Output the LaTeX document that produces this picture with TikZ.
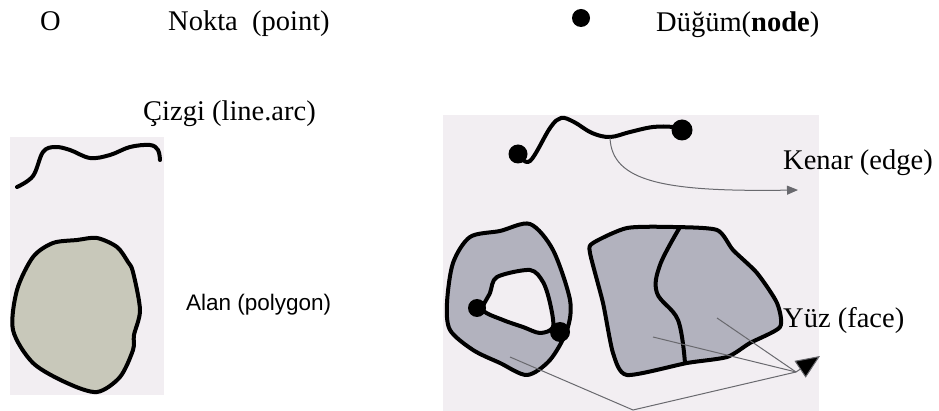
\documentclass[tikz,border=0pt]{standalone}
\usepackage{fontspec}
\setmainfont{Liberation Serif}
\newfontfamily\arialfont{Liberation Sans}
\usetikzlibrary{arrows.meta}
\definecolor{scanbg}{RGB}{242,238,242}
\definecolor{alanfill}{RGB}{200,200,186}
\definecolor{yuzfill}{RGB}{178,178,190}
\definecolor{pointergray}{RGB}{105,105,110}
\tikzset{
  outline/.style={draw=black, line width=4pt, line join=round, line cap=round},
  knot/.style={circle, fill=black, inner sep=0pt, minimum size=19pt},
  pointer/.style={draw=pointergray, line width=1pt},
  lbl/.style={anchor=base west, inner sep=0pt, font=\fontsize{28.5}{30}\selectfont},
  sanslbl/.style={anchor=base west, inner sep=0pt, font=\arialfont\fontsize{22.5}{25}\selectfont}
}

\begin{document}
\begin{tikzpicture}[x=1pt, y=-1pt]
  \useasboundingbox (0,0) rectangle (939,411);

  % Legend row
  \node[lbl] (pointsym) at (40,31) {O};
  \node[lbl] (pointlbl) at (168,31) {Nokta\ \ (point)};
  \node[knot, minimum size=18pt] (nodesym) at (581,18) {};
  \node[lbl] (nodelbl) at (656,32) {Düğüm(\textbf{node})};

  % Scanned panels
  \fill[scanbg] (10,137) rectangle (164,395);
  \fill[scanbg] (443,115) rectangle (819,411);

  % Left panel: line and polygon
  \node[lbl] (cizgilbl) at (143,121) {Çizgi (line.arc)};
  \draw[outline] plot[smooth, tension=0.6] coordinates {
    (17,187) (33,176) (43,152) (55,147) (70,150) (90,158)
    (110,155) (130,147) (150,145) (158,150) (160,160)};
  \draw[outline, fill=alanfill] plot[smooth cycle, tension=0.5] coordinates {
    (97,238) (117,247) (128,262) (133,272) (140,310) (134,335) (133,350) (120,377)
    (97,392) (67,383) (33,363) (13,330) (17,290) (33,257)
    (53,243) (77,240)};
  \node[sanslbl] (alanlbl) at (186,311) {Alan (polygon)};

  % Right panel: edge between two nodes
  \node[knot] (eleft) at (518,154) {};
  \node[knot, minimum size=21pt] (eright) at (682,130) {};
  \draw[outline] plot[smooth, tension=0.6] coordinates {
    (518,154) (530,161) (550,128) (561,118) (574,122) (592,133)
    (610,137) (630,132) (653,127) (673,127) (682,130)};
  \coordinate (edgept) at (610,138);
  \coordinate (edgetip) at (798,190);
  \draw[pointer, -{Triangle[length=11pt, width=9pt]}]
    (edgept) .. controls (612,182) and (665,192) .. (edgetip);
  \node[lbl] (kenarlbl) at (783,170) {Kenar (edge)};

  % Right panel: faces
  \draw[outline, fill=yuzfill, even odd rule] plot[smooth cycle, tension=0.5] coordinates {
    (500,231) (530,224) (553,250) (570,300) (567,330) (550,360)
    (527,375) (500,363) (473,350) (450,330) (447,303) (453,263) (470,237)}
    plot[smooth cycle, tension=0.5] coordinates {
    (497,277) (530,270) (543,282) (550,303) (553,327) (540,333)
    (523,327) (503,320) (483,310) (490,293)};
  \draw[outline, fill=yuzfill] plot[smooth cycle, tension=0.4] coordinates {
    (593,243) (627,228) (673,227) (717,230) (733,250) (757,273)
    (777,303) (780,327) (750,343) (727,357) (687,363) (627,375)
    (613,353) (603,303) (590,253)};
  \draw[outline] plot[smooth, tension=0.6] coordinates {
    (680,227) (660,265) (657,293) (678,320) (685,363)};
  \node[knot, minimum size=18pt] (hleft) at (477,308) {};
  \node[knot, minimum size=20pt] (hright) at (560,332) {};

  % Face pointers
  \coordinate (faceA) at (510,357);
  \coordinate (faceB) at (653,337);
  \coordinate (faceC) at (717,318);
  \coordinate (facebot) at (633,410);
  \coordinate (facehub) at (796,372);
  \coordinate (facetip) at (820,356);
  \draw[pointer] (faceA) -- (facebot) -- (facehub);
  \draw[pointer] (faceB) -- (facehub);
  \draw[pointer] (faceC) -- (facehub);
  \draw[pointer, -{Triangle[length=24pt, width=20pt, fill=black]}] (facehub) -- (facetip);
  \node[lbl] (yuzlbl) at (783,327) {Yüz (face)};
\end{tikzpicture}
\end{document}
